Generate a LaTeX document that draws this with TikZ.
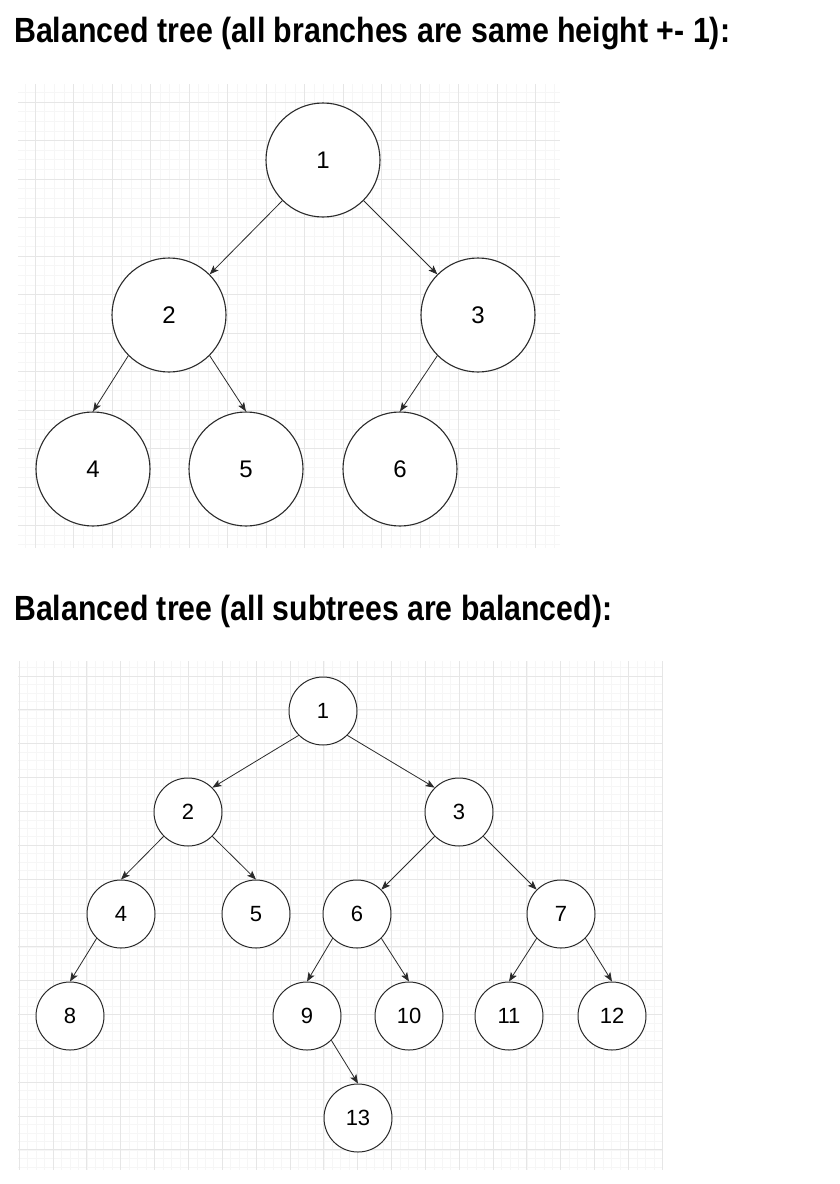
\documentclass[tikz,border=0pt]{standalone}
\usepackage{fontspec}
\setmainfont{Liberation Sans}
\usetikzlibrary{arrows.meta}
\definecolor{gridmajor}{HTML}{E6E6E6}
\definecolor{gridminor}{HTML}{F6F6F6}
\definecolor{stroke}{HTML}{2A2A2A}
\tikzset{
  minorline/.style={draw=gridminor, line width=0.6pt},
  majorline/.style={draw=gridmajor, line width=0.9pt},
  bignode/.style={circle, draw=stroke, line width=1.1pt, fill=white, minimum size=114pt, inner sep=0pt, font=\fontsize{24}{24}\selectfont},
  smallnode/.style={circle, draw=stroke, line width=1pt, fill=white, minimum size=68pt, inner sep=0pt, font=\fontsize{22}{22}\selectfont},
  edge/.style={draw=stroke, line width=0.8pt, -{Stealth[length=9pt,width=7pt,inset=2pt]}},
  titletext/.style={anchor=base west, inner sep=0pt, font=\bfseries\fontsize{35}{35}\selectfont}
}
\begin{document}
\begin{tikzpicture}[x=1pt,y=-1pt]
\useasboundingbox (0,0) rectangle (840,1184);
\fill[white] (0,0) rectangle (840,1184);

% titles
\node[titletext] (title1) at (14,42) {\resizebox{716pt}{\height}{Balanced tree (all branches are same height +- 1):}};
\node[titletext] (title2) at (14,620) {\resizebox{598pt}{\height}{Balanced tree (all subtrees are balanced):}};

% top grid
\begin{scope}
\clip (18,84) rectangle (560,548);
\foreach \i in {-2,...,60} {
  \draw[minorline] ({35+\i*9.625},84) -- ++(0,464);
  \draw[minorline] (18,{102+\i*9.625}) -- ++(542,0);
}
\foreach \i in {-1,...,15} {
  \draw[majorline] ({35+\i*38.5},84) -- ++(0,464);
  \draw[majorline] (18,{102+\i*38.5}) -- ++(542,0);
}
\end{scope}

% bottom grid
\begin{scope}
\clip (18,661) rectangle (663,1170);
\foreach \i in {-8,...,80} {
  \draw[minorline] ({53+\i*8.4625},661) -- ++(0,509);
  \draw[minorline] (18,{676+\i*8.4625}) -- ++(645,0);
}
\foreach \i in {-2,...,20} {
  \draw[majorline] ({53+\i*33.85},661) -- ++(0,509);
  \draw[majorline] (18,{676+\i*33.85}) -- ++(645,0);
}
\end{scope}

% top tree
\node[bignode] (t1) at (323,160) {1};
\node[bignode] (t2) at (169,315) {2};
\node[bignode] (t3) at (478,315) {3};
\node[bignode] (t4) at (93,469) {4};
\node[bignode] (t5) at (246,469) {5};
\node[bignode] (t6) at (400,469) {6};

\draw[edge] (t1.225) -- (t2.45);
\draw[edge] (t1.-45) -- (t3.135);
\draw[edge] (t2.225) -- (t4.north);
\draw[edge] (t2.-45) -- (t5.north);
\draw[edge] (t3.225) -- (t6.north);

% bottom tree
\node[smallnode] (b1) at (323,711) {1};
\node[smallnode] (b2) at (188,812) {2};
\node[smallnode] (b3) at (459,812) {3};
\node[smallnode] (b4) at (121,914) {4};
\node[smallnode] (b5) at (256,914) {5};
\node[smallnode] (b6) at (357,914) {6};
\node[smallnode] (b7) at (561,914) {7};
\node[smallnode] (b8) at (70,1016) {8};
\node[smallnode] (b9) at (307,1016) {9};
\node[smallnode] (b10) at (409,1016) {10};
\node[smallnode] (b11) at (509,1016) {11};
\node[smallnode] (b12) at (612,1016) {12};
\node[smallnode] (b13) at (358,1118) {13};

\draw[edge] (b1.225) -- (b2.45);
\draw[edge] (b1.-45) -- (b3.135);
\draw[edge] (b2.225) -- (b4.north);
\draw[edge] (b2.-45) -- (b5.north);
\draw[edge] (b3.225) -- (b6.45);
\draw[edge] (b3.-45) -- (b7.135);
\draw[edge] (b4.225) -- (b8.north);
\draw[edge] (b6.225) -- (b9.north);
\draw[edge] (b6.-45) -- (b10.north);
\draw[edge] (b7.225) -- (b11.north);
\draw[edge] (b7.-45) -- (b12.north);
\draw[edge] (b9.-45) -- (b13.north);
\end{tikzpicture}
\end{document}
